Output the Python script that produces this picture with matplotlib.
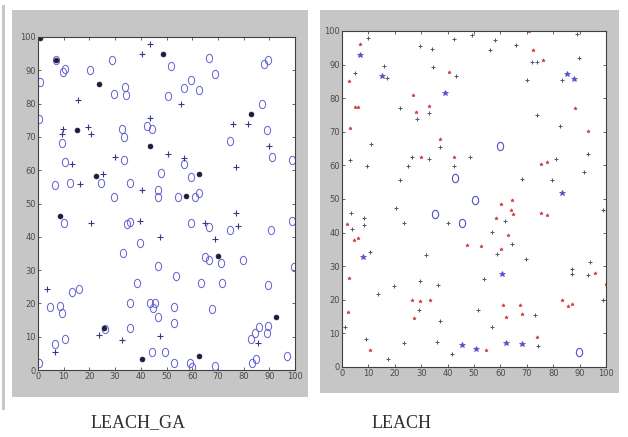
import matplotlib
matplotlib.use("Agg")
import matplotlib.pyplot as plt
from matplotlib.patches import Rectangle
from matplotlib.path import Path
from matplotlib.transforms import Affine2D

# ---- LEACH_GA panel (left) ----
ga_circle_x = [7, 9.7, 10.4, 0.6, 20.4, 28.6, 29.6, 33.8, 34.4, 51.7, 50.6, 56.8, 59.7, 62.7, 66.6,
               68.8, 88, 89.6, 87, 74.7, 89, 90.9, 99, 0.4, 9.5, 32.5, 33.4, 42.6, 44.5, 33.5, 56.8,
               10.4, 24.7, 6.5, 12.6, 35.7, 47.7, 59.7, 46.8, 46.8, 29.6, 54.5, 61, 62.7,
               10, 34.8, 35.7, 39.6, 32.9, 46.8, 53.6, 59.7, 66.6, 74.7, 71.4, 64.9, 66.6, 79.9,
               90.5, 99, 99.6, 89.6, 71.7, 63.6, 38.7, 13.4, 15.8, 4.5, 8.7, 9.5, 35.7, 43.5, 45.5,
               44.8, 46.8, 52.9, 52.9, 67.8, 6.5, 10.4, 26.2, 35.7, 44.5, 49.6, 52.9, 59, 60, 68.8,
               82.7, 84.4, 86.1, 89, 89.6, 83.4, 85, 96.8, 0.4]
ga_circle_y = [93, 89.5, 90.5, 86.5, 90, 93, 82.8, 85, 82.7, 91.2, 82.2, 84.8, 87, 84.2, 93.8,
               89, 91.8, 93, 79.8, 68.8, 72, 64, 63, 75.5, 68.2, 72.3, 70, 73.2, 72.5, 63, 62,
               62.5, 56.2, 55.5, 56.2, 56.2, 59.2, 58, 54, 52, 52, 52, 52, 53.2,
               44, 43.8, 44.5, 38, 35, 31.2, 28.2, 44, 43, 42, 32, 34, 33, 33,
               42, 44.8, 31, 25.5, 26, 26, 26, 23.5, 24.2, 19, 19.2, 17, 20.2, 20.2, 20,
               18.5, 16, 19, 14.2, 18.2, 7.8, 9.2, 12.3, 12.5, 5.5, 5.5, 2.2, 2, 1, 1.2,
               9.2, 11, 13, 11, 13.2, 2.2, 3.2, 4.2, 2.2]

ga_plus_x = [15.6, 40.5, 43.5, 55.8, 81.6, 76, 90, 77, 9.7, 9.4, 19.5, 20.5, 43.5, 29.9, 50.6,
             56.8, 13.4, 25.3, 16.2, 40.6, 20.8, 39.6, 47.4, 64.9, 77, 77.7, 68.8, 3.5, 6.5,
             23.8, 32.5, 47.4, 85.7]
ga_plus_y = [81.2, 94.8, 98, 79.8, 74, 74, 67.2, 61, 72.5, 71, 73, 70.8, 75.8, 64, 65,
             63.8, 62, 59, 56, 54, 44, 44.8, 40, 44, 47, 43.2, 39.2, 24.2, 5.5,
             10.5, 9, 10.2, 8.2]

ga_head_x = [0.6, 7, 23.8, 48.7, 82.7, 15.2, 43.5, 22.5, 62.7, 57.5, 8.4, 70, 92.6, 25.7, 40.6, 62.7]
ga_head_y = [99.8, 93, 86, 94.8, 77, 72, 67.3, 58.2, 59, 52.2, 46.2, 34.2, 16, 12.5, 3.2, 4.2]

# ---- LEACH panel (right) ----
leach_red_x = [7, 5, 6, 3, 30, 71, 75.3, 77.5, 88.3, 93.3, 2.8, 28, 27, 33, 37, 40.5, 72.5, 76,
               42.4, 2, 4.5, 6.2, 2.6, 10.5, 26.7, 29.5, 27.3, 33.3, 47.4, 52.6, 60.3, 60.3, 62.8,
               64.1, 64.7, 64.4, 60.9, 62.2, 67.3, 68.3, 74, 75.3, 77.6, 83.3, 85.5, 87.2, 95.8,
               100, 2.3, 58.3, 54.5]
leach_red_y = [96, 77.4, 77.4, 71, 62.5, 100, 60.5, 61, 77.2, 70.2, 85, 76, 81, 77.8, 68, 87.8, 94.4, 91.4,
               62.5, 42.7, 37.7, 38.5, 26.6, 5, 19.8, 19.6, 14.7, 19.8, 36.2, 36, 35.2, 48.6, 39.2,
               46.6, 45.6, 49.6, 18.4, 14.9, 18.4, 15.9, 8.9, 45.8, 45.1, 19.8, 18.1, 18.7, 28,
               24.8, 16.4, 44.4, 5]

leach_dark_x = [10, 5, 17, 16, 11, 3, 9.5, 22, 22, 28.5, 29.5, 34, 34.5, 26.6, 25, 33, 33, 37.3,
                43, 42.4, 42.4, 48.5, 49.4, 56, 58, 66, 68.3, 70, 71.8, 74, 74, 81, 79.4, 82.7,
                83.5, 89.9, 93.3, 91.8, 89,
                3.5, 3.6, 8.3, 8.3, 10.6, 1.3, 13.5, 9, 19.6, 20.3, 23.5, 23.5, 17.5, 29.5, 29,
                32, 36.5, 37, 36, 40, 41.7, 53.6, 51.5, 57, 56.8, 58.7, 61.8, 64.4, 69.6, 73,
                74.4, 87.2, 87.2, 93.2, 94, 99, 99]
leach_dark_y = [98, 87.5, 86, 89.5, 66.5, 61.7, 59.7, 55.8, 77, 73.7, 95.4, 94.7, 89.3, 62.5, 59.8, 61.8, 75.6, 65.5,
                86.5, 97.7, 59.8, 62.5, 98.7, 94.4, 97.2, 95.7, 56, 85.3, 90.8, 90.8, 75, 62, 55.6, 71.6,
                85.3, 92, 63.3, 58, 99,
                45.8, 41.2, 44.3, 42.2, 34.2, 11.9, 21.6, 8.4, 24, 47.4, 42.9, 7, 2.5, 25.6, 16.9,
                33.2, 24.3, 13.7, 7.4, 42.9, 3.8, 26.1, 16.9, 40.2, 11.9, 33.7, 43.5, 36.7, 32.2, 15.4,
                6.2, 29.3, 27.8, 27.3, 31.2, 46.6, 19.8]

leach_bstar_x = [7, 15, 39, 85.4, 87.7, 83.5, 8, 45.5, 50.6, 62, 68, 60.6]
leach_bstar_y = [92.8, 86.5, 81.5, 87.3, 85.6, 51.9, 32.7, 6.4, 5.5, 7.1, 6.7, 27.6]

leach_bcirc_x = [42.7, 60, 35.3, 45.3, 89.9, 50.4]
leach_bcirc_y = [56.3, 65.7, 45.6, 42.9, 4.5, 49.6]

TICKS = list(range(0, 101, 10))

W, H = 628, 437

# the scanned picture is stretched vertically, so circles look like ovals
OVAL = Path.unit_circle().transformed(Affine2D().scale(0.75, 1.0))


def frac(x0, y0, x1, y1):
    # pixel box (top-left origin) -> figure fraction [l, b, w, h]
    return [x0 / W, 1 - y1 / H, (x1 - x0) / W, (y1 - y0) / H]


def style_axes(ax):
    ax.set_xlim(0, 100)
    ax.set_ylim(0, 100)
    ax.set_xticks(TICKS)
    ax.set_yticks(TICKS)
    ax.tick_params(direction="in", length=2.5, width=0.6, labelsize=6, colors="#4a4a4a",
                   top=True, right=True, pad=1.5)
    for s in ax.spines.values():
        s.set_color("#404040")
        s.set_linewidth(0.8)


fig = plt.figure(figsize=(W / 100, H / 100), dpi=100)
fig.patch.set_facecolor("white")

# gray figure frames and the left edge strip
for box in [(12, 10, 308, 397), (320, 10, 619, 393), (2, 5, 5, 410)]:
    l, b, w, h = frac(*box)
    fig.patches.append(Rectangle((l, b), w, h, transform=fig.transFigure,
                                 facecolor="#c6c6c6", edgecolor="none", zorder=-5))

ax1 = fig.add_axes(frac(38, 37, 295, 370))
ax1.plot(ga_circle_x, ga_circle_y, marker=OVAL, ls="none", mfc="none", mec="#6060d0", ms=6, mew=0.7)
ax1.plot(ga_plus_x, ga_plus_y, "+", color="#3a3a80", ms=4, mew=0.8)
ax1.plot(ga_head_x, ga_head_y, "o", color="#1c1c3c", ms=3.5, mew=0.5)
style_axes(ax1)

ax2 = fig.add_axes(frac(342, 31, 606, 367))
ax2.plot(leach_red_x, leach_red_y, "*", color="#d04040", ms=2.6, mew=0.4)
ax2.plot(leach_dark_x, leach_dark_y, "+", color="#55556a", ms=2.8, mew=0.7)
ax2.plot(leach_bstar_x, leach_bstar_y, "*", color="#5050c8", ms=3.8, mew=0.5)
ax2.plot(leach_bcirc_x, leach_bcirc_y, marker=OVAL, ls="none", mfc="none", mec="#5050c8", ms=6, mew=0.8)
style_axes(ax2)

fig.text(138 / W, 1 - 423 / H, "LEACH_GA", ha="center", va="center",
         family=["Liberation Serif", "DejaVu Serif"], fontsize=13, color="#303030")
fig.text(402 / W, 1 - 423 / H, "LEACH", ha="center", va="center",
         family=["Liberation Serif", "DejaVu Serif"], fontsize=13, color="#303030")

fig.savefig("out.png", dpi=100)
